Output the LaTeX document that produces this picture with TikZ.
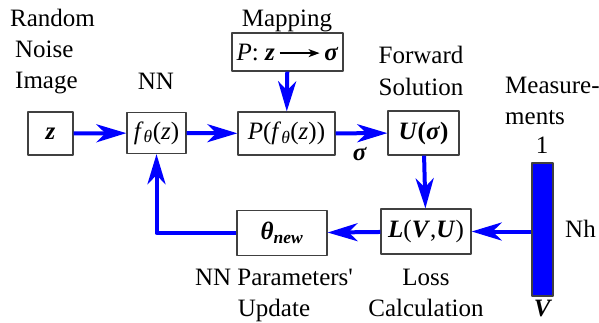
\documentclass[tikz,border=0pt]{standalone}
\usepackage{fontspec}
\setmainfont{Liberation Serif}
\usetikzlibrary{arrows.meta}
\newcommand{\bi}[1]{\textbf{\textit{#1}}}

\begin{document}
\begin{tikzpicture}[x=1pt,y=-1pt,line join=round,
	font=\fontsize{25}{32}\selectfont,
	blk/.style={draw=black!75,line width=1.3pt,inner sep=0pt},
	flow/.style={draw=blue,line width=4pt,-{Stealth[length=30pt,width=18pt,inset=9pt]}},
	lbl/.style={anchor=base,inner sep=0pt}]
	\useasboundingbox (0,0) rectangle (599,322);
	% blocks
	\node[blk,minimum width=45pt,minimum height=43pt] (z) at (50.5,133.5) {\bi{z}};
	\node[blk,minimum width=59pt,minimum height=41pt] (f) at (156.5,133) {\textit{f}\textsubscript{\textit{θ}}(\textit{z})};
	\node[blk,minimum width=97pt,minimum height=43pt] (P) at (286.5,133.5) {\textit{P}(\textit{f}\textsubscript{\textit{θ}}(\textit{z}))};
	\node[blk,minimum width=111pt,minimum height=38pt] (map) at (287.5,52) {\textit{P}: \bi{z}\,\tikz[baseline=-0.6ex]\draw[line width=1.3pt,-{Stealth[length=11pt,width=8pt,inset=3pt]}] (0,0)--(40,0);\,\bi{σ}};
	\node[blk,minimum width=71pt,minimum height=44pt] (U) at (423.5,133) {\bi{U}\textbf{(}\bi{σ}\textbf{)}};
	\node[blk,minimum width=90pt,minimum height=45pt] (L) at (426,231.5) {\bi{L}(\bi{V},\bi{U})};
	\node[blk,minimum width=90pt,minimum height=45pt] (th) at (282,233) {\bi{θ}\textsubscript{\bi{new}}};
	\node[draw=black!75,line width=1.3pt,fill=blue,minimum width=21pt,minimum height=133pt,inner sep=0pt] (V) at (542.5,229.5) {};
	\coordinate (bend) at (f.south|-th.west);
	% labels
	\node[lbl,anchor=base west] (t1) at (10,26) {Random};
	\node[lbl,anchor=base west] (t2) at (15,57) {Noise};
	\node[lbl,anchor=base west] (t3) at (15,88) {Image};
	\node[lbl] (t4) at (156,89) {NN};
	\node[lbl] (t5) at (287,26) {Mapping};
	\node[lbl] (t6) at (421,63) {Forward};
	\node[lbl] (t7) at (421,95) {Solution};
	\node[lbl,anchor=base west] (t8) at (505,93) {Measure-};
	\node[lbl,anchor=base west] (t9) at (505,124) {ments};
	\node[lbl] (t10) at (542,153) {1};
	\node[lbl,anchor=base west] (t11) at (565,237) {Nh};
	\node[lbl] (t12) at (543,316) {\bi{V}};
	\node[lbl] (t13) at (426,285) {Loss};
	\node[lbl] (t14) at (426,316) {Calculation};
	\node[lbl] (t15) at (274,285) {NN Parameters\textquotesingle};
	\node[lbl] (t16) at (274,316) {Update};
	\node[lbl] (sig) at (360,160) {\bi{σ}};
	% connectors
	\draw[flow] (z) -- (f);
	\draw[flow] (f) -- (P);
	\draw[flow] (map) -- (P);
	\draw[flow] (P) -- (U);
	\draw[flow] (U) -- (L);
	\draw[flow] (V.west|-L.east) -- (L.east);
	\draw[flow] (L) -- (th);
	\draw[flow] (th.west) -- (bend) -- (f.south);
\end{tikzpicture}
\end{document}
